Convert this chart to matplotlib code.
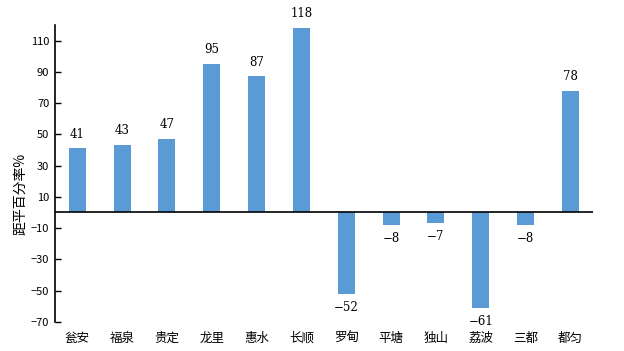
import matplotlib
matplotlib.use("Agg")
import matplotlib.pyplot as plt

plt.rcParams['font.family'] = ['Noto Sans CJK SC', 'DejaVu Sans']

stations = ["瓮安", "福泉", "贵定", "龙里", "惠水", "长顺", "罗甸", "平塘", "独山", "荔波", "三都", "都匀"]
anomaly = [41, 43, 47, 95, 87, 118, -52, -8, -7, -61, -8, 78]
yticks = [-70, -50, -30, -10, 10, 30, 50, 70, 90, 110]

fig = plt.figure(figsize=(6.24, 3.51), dpi=100)
ax = fig.add_axes([0.088, 0.083, 0.862, 0.846])

x = range(len(stations))
ax.bar(x, anomaly, width=0.38, color="#5B9BD5", zorder=2)
ax.axhline(0, color="black", linewidth=1.2, zorder=3)

for i, v in enumerate(anomaly):
    if v >= 0:
        ax.text(i, v + 5, str(v), ha="center", va="bottom", fontsize=8.5,
                family=["DejaVu Serif"])
    else:
        ax.text(i, v - 4.5, str(v).replace("-", "\u2212"), ha="center", va="top",
                fontsize=8.5, family=["DejaVu Serif"])

ax.set_xlim(-0.5, len(stations) - 0.5)
ax.set_ylim(-70, 120)
ax.set_yticks(yticks)
ax.set_yticklabels([str(t).replace("-", "\u2212") for t in yticks], fontsize=8)
ax.set_xticks(list(x))
ax.set_xticklabels(stations, fontsize=9)
ax.tick_params(axis="y", direction="in", length=4, width=1, pad=4)
ax.tick_params(axis="x", length=0, pad=7)

for s in ["top", "right", "bottom"]:
    ax.spines[s].set_visible(False)
ax.spines["left"].set_linewidth(1.2)

ax.set_ylabel("距平百分率%", fontsize=10)
ax.yaxis.set_label_coords(-0.052, 0.43)

fig.savefig("out.png", dpi=100)
